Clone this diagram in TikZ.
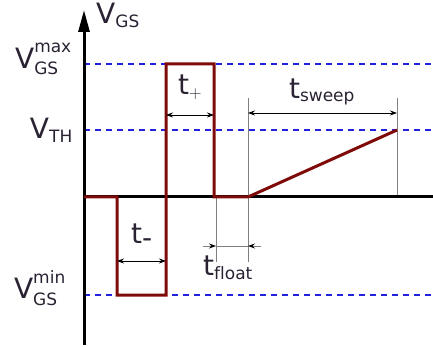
\documentclass[tikz,border=0pt]{standalone}
\usepackage{fontspec}
\setmainfont{DejaVu Sans}
\usetikzlibrary{arrows.meta}
\definecolor{wave}{HTML}{7F0A0A}
\definecolor{txt}{HTML}{2A2233}
\definecolor{dim}{HTML}{808080}
\definecolor{dashc}{HTML}{2222DD}
\DeclareMathSizes{28}{28}{17}{12}
\begin{document}
\begin{tikzpicture}[x=1pt,y=-1pt,
  lab/.style={inner sep=0pt,text=txt,font=\fontsize{28}{32}\selectfont},
  axisline/.style={line width=3pt,black},
  wavel/.style={line width=3pt,wave,line join=miter},
  dashl/.style={dashc,line width=1.2pt,dash pattern=on 6pt off 5pt},
  guide/.style={dim,line width=0.8pt},
  dimarrow/.style={black,line width=0.8pt,{Stealth[length=7pt,width=5pt]}-{Stealth[length=7pt,width=5pt]}},
  halfarrow/.style={dim,line width=0.8pt,-{Stealth[length=7pt,width=5pt,black]}}]
\useasboundingbox (0,0) rectangle (433,347);
% coordinates
\coordinate (o) at (84,197);
\coordinate (ybot) at (84,345);
\coordinate (ytop) at (84,10);
\coordinate (xend) at (433,197);
% dashed levels
\coordinate (mx0) at (84,64);  \coordinate (mx1) at (433,64);
\coordinate (th0) at (84,130); \coordinate (th1) at (433,130);
\coordinate (mn0) at (84,295); \coordinate (mn1) at (433,295);
\draw[dashl] (mx0) -- (mx1);
\draw[dashl] (th0) -- (th1);
\draw[dashl] (mn0) -- (mn1);
% guide lines
\coordinate (g1t) at (216,197); \coordinate (g1b) at (216,262);
\coordinate (g2t) at (248,98);  \coordinate (g2b) at (248,262);
\coordinate (g3t) at (397,98);  \coordinate (g3b) at (397,197);
\draw[guide] (g1t) -- (g1b);
\draw[guide] (g2t) -- (g2b);
\draw[guide] (g3t) -- (g3b);
% axes
\draw[axisline] (xend) -- (o);
\draw[axisline,-{Triangle[length=22pt,width=11pt]}] (ybot) -- (ytop);
% waveform
\coordinate (w0) at (84,197);
\coordinate (w1) at (117,197);
\coordinate (w2) at (117,295);
\coordinate (w3) at (166,295);
\coordinate (w4) at (166,64);
\coordinate (w5) at (214,64);
\coordinate (w6) at (214,197);
\coordinate (w7) at (248,197);
\coordinate (w8) at (397,130);
\draw[wavel] (w0) -- (w1) -- (w2) -- (w3) -- (w4) -- (w5) -- (w6) -- (w7) -- (w8);
% dimension arrows
\coordinate (tm0) at (117,261); \coordinate (tm1) at (166,261);
\draw[dimarrow] (tm0) -- (tm1);
\coordinate (tp0) at (166,115); \coordinate (tp1) at (214,115);
\draw[dimarrow] (tp0) -- (tp1);
\coordinate (ts0) at (248,113); \coordinate (ts1) at (397,113);
\draw[dimarrow] (ts0) -- (ts1);
\coordinate (tf0) at (216,246); \coordinate (tf1) at (248,246);
\coordinate (tfa) at (203,246); \coordinate (tfb) at (261,246);
\draw[guide] (tf0) -- (tf1);
\draw[halfarrow] (tfa) -- (tf0);
\draw[halfarrow] (tfb) -- (tf1);
% labels
\node[lab,anchor=base west] (vgs) at (96,24) {$\mathrm{V}_{\mathrm{GS}}$};
\node[lab,anchor=east] (vmax) at (72,59) {$\mathrm{V}_{\mathrm{GS}}^{\mathrm{max}}$};
\node[lab,anchor=east] (vth) at (73,130) {$\mathrm{V}_{\mathrm{TH}}$};
\node[lab,anchor=east] (vmin) at (66,288) {$\mathrm{V}_{\mathrm{GS}}^{\mathrm{min}}$};
\node[lab] (tplus) at (190,87) {$\mathrm{t}_{+}$};
\node[lab] (tminus) at (142,236) {$\mathrm{t}_{\mbox{-}}$};
\node[lab] (tsweep) at (322,92) {$\mathrm{t}_{\mathrm{sweep}}$};
\node[lab] (tfloat) at (228,268) {$\mathrm{t}_{\mathrm{float}}$};
\end{tikzpicture}
\end{document}
